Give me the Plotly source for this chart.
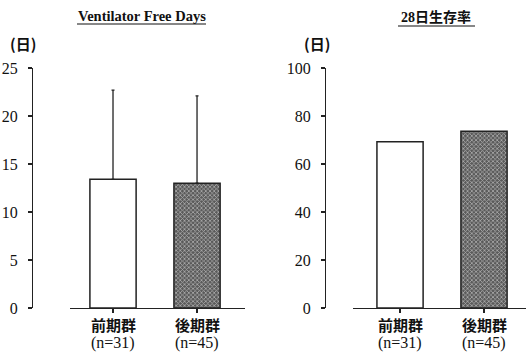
import plotly.graph_objects as go

groups = ["前期群", "後期群"]
n_labels = ["(n=31)", "(n=45)"]
vfd_mean = [13.4, 13.0]
vfd_sd = [9.3, 9.1]
survival = [69.3, 73.6]
vfd_ticks = [0, 5, 10, 15, 20, 25]
surv_ticks = [0, 20, 40, 60, 80, 100]

W, H = 526, 354
FONT = '"Liberation Serif", "Times New Roman", "Noto Sans CJK JP", serif'
CJK = '"Noto Sans CJK JP", sans-serif'

def px(x):
    return x / W

def py(y):
    return 1 - y / H

bar_colors = ["white", "#5a5a5a"]
patterns = dict(shape=["", "x"], fgcolor="#262626", bgcolor="#6a6a6a", size=3, solidity=0.45)

fig = go.Figure()
fig.add_trace(go.Bar(
    x=[0, 1], y=vfd_mean, width=0.55,
    marker=dict(color=bar_colors, line=dict(color="#222", width=1.5), pattern=patterns),
    error_y=dict(type="data", array=vfd_sd, arrayminus=[0, 0], symmetric=False,
                 color="#222", thickness=1.3, width=1.5),
    xaxis="x", yaxis="y", showlegend=False, hoverinfo="skip"))
fig.add_trace(go.Bar(
    x=[0, 1], y=survival, width=0.55,
    marker=dict(color=bar_colors, line=dict(color="#222", width=1.5), pattern=patterns),
    xaxis="x2", yaxis="y2", showlegend=False, hoverinfo="skip"))

ydom = [py(308), py(68)]
line_common = dict(showline=True, linecolor="#222", linewidth=1.3, showgrid=False, zeroline=False,
                   ticks="outside", ticklen=4, tickwidth=1.2, tickcolor="#222", automargin=False)
ytick_font = dict(family=FONT, size=16, color="#111")
n_font = dict(family=FONT, size=16, color="#111")
g_font = dict(family=CJK, size=15, color="#111")

fig.update_layout(
    width=W, height=H, margin=dict(l=0, r=0, t=0, b=0, autoexpand=False),
    paper_bgcolor="white", plot_bgcolor="white",
    bargap=0,
    xaxis=dict(domain=[px(70), px(245)], range=[-0.512, 1.571], anchor="y",
               tickvals=[0, 1], showticklabels=False, **line_common),
    yaxis=dict(domain=ydom, range=[0, 25], anchor="free", position=px(32),
               tickvals=vfd_ticks, tickfont=ytick_font, ticklabelstandoff=7, **line_common),
    xaxis2=dict(domain=[px(353), 1.0], range=[-0.56, 1.5], anchor="y2",
                tickvals=[0, 1], showticklabels=False, **line_common),
    yaxis2=dict(domain=ydom, range=[0, 100], anchor="free", position=px(325),
                tickvals=surv_ticks, tickfont=ytick_font, ticklabelstandoff=7, **line_common),
)

for xr in ["x", "x2"]:
    for i, (g, lab) in enumerate(zip(groups, n_labels)):
        fig.add_annotation(text="<b>" + g + "</b>", x=i, xref=xr, y=py(324), yref="paper", showarrow=False,
                           xanchor="center", yanchor="middle", font=g_font)
        fig.add_annotation(text=lab, x=i, xref=xr, y=py(343), yref="paper", showarrow=False,
                           xanchor="center", yanchor="middle", font=n_font)

annots = [
    dict(text="<b>Ventilator Free Days</b>", x=px(141.5), y=py(16), font=dict(family=FONT, size=14.5, color="#111")),
    dict(text="<b>28日生存率</b>", x=px(436), y=py(17), font=dict(family=FONT, size=14, color="#111")),
    dict(text="<b>(日)</b>", x=px(23), y=py(44), font=dict(family=CJK, size=15, color="#111")),
    dict(text="<b>(日)</b>", x=px(317), y=py(44), font=dict(family=CJK, size=15, color="#111")),
]
for a in annots:
    fig.add_annotation(xref="paper", yref="paper", showarrow=False, xanchor="center", yanchor="middle", **a)

fig.add_shape(type="line", xref="paper", yref="paper", x0=px(77), x1=px(206), y0=py(24), y1=py(24),
              line=dict(color="#111", width=1.2))
fig.add_shape(type="line", xref="paper", yref="paper", x0=px(398), x1=px(475), y0=py(26), y1=py(26),
              line=dict(color="#111", width=1.2))

fig.write_html("out.html", config={"displayModeBar": False, "staticPlot": True},
               post_script="document.body.style.margin='0';document.body.style.overflow='hidden';")
